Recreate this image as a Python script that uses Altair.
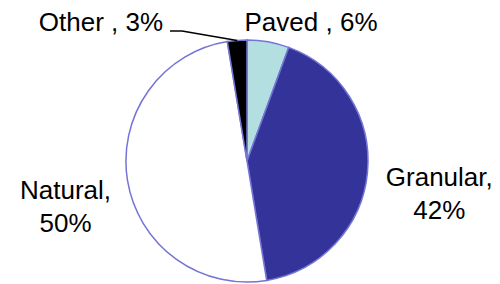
import math
import altair as alt
import pandas as pd

# ---- data ----
categories = ["Paved", "Granular", "Natural", "Other"]
shares = [5.6, 41.8, 50.0, 2.6]          # percent, clockwise from 12 o'clock
label_text = ["Paved , 6%", "Granular,\n42%", "Natural,\n50%", "Other , 3%"]

# ---- styles / layout ----
colors = ["#b4dfe1", "#333399", "#ffffff", "#000000"]
STROKE = "#7474d6"
CX, CY, R = 239, 153, 121
FONT = "Liberation Sans"
FS = 26
label_angle_deg = [24.96, 95, 260.6, 313.28]
label_radius = [151.7, 193, 184, 200.6]

df = pd.DataFrame({"cat": categories, "share": shares, "order": list(range(len(categories)))})
lab = pd.DataFrame({
    "cat": categories,
    "text": label_text,
    "ang": [a * math.pi / 180 for a in label_angle_deg],
    "r": label_radius,
})

pie = alt.Chart(df).mark_arc(
    x=CX, y=CY, outerRadius=R, stroke=STROKE, strokeWidth=1.5
).encode(
    theta=alt.Theta("share:Q", stack=True),
    order=alt.Order("order:Q"),
    color=alt.Color("cat:N", scale=alt.Scale(domain=categories, range=colors), legend=None),
)

labels = alt.Chart(lab).mark_text(
    x=CX, y=CY, font=FONT, fontSize=FS, color="black",
    align="center", baseline="middle", lineBreak="\n", lineHeight=33,
).encode(
    theta=alt.Theta("ang:Q", stack=None,
                    scale=alt.Scale(type="linear", domain=[0, 2 * math.pi], range=[0, 2 * math.pi])),
    radius=alt.Radius("r:Q", scale=alt.Scale(type="linear", domain=[0, 500], range=[0, 500], zero=True)),
    text="text:N",
)

# leader line for "Other": from label to the middle of its wedge
start_other = sum(shares[:3]) / sum(shares) * 2 * math.pi
mid_other = (start_other + 2 * math.pi) / 2
ex, ey = CX + R * math.sin(mid_other), CY - R * math.cos(mid_other)
one = pd.DataFrame({"k": [0]})
seg1 = alt.Chart(one).mark_rule(color="black", strokeWidth=1.5).encode(
    x=alt.value(162), y=alt.value(23), x2=alt.value(174), y2=alt.value(23))
seg2 = alt.Chart(one).mark_rule(color="black", strokeWidth=1.5).encode(
    x=alt.value(174), y=alt.value(23), x2=alt.value(ex), y2=alt.value(ey))

chart = alt.layer(pie, seg1, seg2, labels).resolve_scale(
    theta="independent", radius="independent"
).properties(
    width=484, height=276, autosize=alt.AutoSizeParams(type="none"), padding=0
).configure_view(stroke=None)

chart.save("out.html", embed_options={"renderer": "svg", "actions": False})
